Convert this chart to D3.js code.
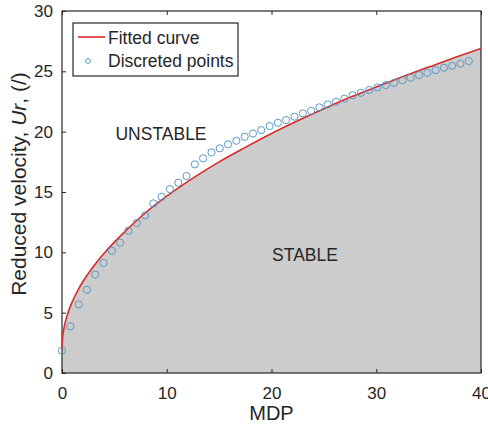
<!DOCTYPE html>
<html>
<head>
<meta charset="utf-8">
<script src="https://cdn.jsdelivr.net/npm/d3@7"></script>
<style>
  body { margin: 0; background: #fff; }
  text { font-family: "Liberation Sans", Arial, sans-serif; fill: #262626; }
</style>
</head>
<body>
<div id="chart"></div>
<script>
// discrete points (MDP, Ur)
var mdp = [0, 0.79, 1.59, 2.38, 3.17, 3.96, 4.76, 5.55, 6.34, 7.13, 7.93, 8.72, 9.51, 10.3, 11.1, 11.89,
  12.68, 13.47, 14.27, 15.06, 15.85, 16.64, 17.44, 18.23, 19.02, 19.82, 20.61, 21.4, 22.19, 22.99, 23.78,
  24.57, 25.36, 26.16, 26.95, 27.74, 28.53, 29.33, 30.12, 30.91, 31.7, 32.5, 33.29, 34.08, 34.87, 35.67,
  36.46, 37.25, 38.04, 38.84];
var ur = [1.85, 3.87, 5.69, 6.9, 8.15, 9.12, 10.12, 10.8, 11.79, 12.43, 13.06, 14.06, 14.6, 15.24, 15.77, 16.32,
  17.29, 17.79, 18.28, 18.62, 18.95, 19.25, 19.58, 19.85, 20.13, 20.46, 20.74, 20.96, 21.24, 21.52, 21.73,
  22.01, 22.26, 22.48, 22.73, 23.02, 23.22, 23.45, 23.67, 23.86, 24.05, 24.27, 24.47, 24.69, 24.88, 25.1,
  25.3, 25.46, 25.63, 25.85];

// fitted curve
var fitX = [0, 0.05, 0.15, 0.3, 0.5, 0.75, 1, 1.5, 2, 3, 4, 5, 6, 8, 10, 12.5, 15, 17.5, 20, 22.5,
  25, 27.5, 30, 32.5, 35, 37.5, 40];
var fitY = [2, 2.88, 3.53, 4.16, 4.79, 5.42, 5.94, 6.83, 7.58, 8.83, 9.9, 10.85, 11.72, 13.3, 14.65,
  16.15, 17.5, 18.7, 19.85, 20.9, 21.9, 22.85, 23.7, 24.55, 25.35, 26.15, 26.9];

var xTicks = [0, 10, 20, 30, 40];
var yTicks = [0, 5, 10, 15, 20, 25, 30];

var width = 488, height = 426;
var mLeft = 62, mRight = 481, mTop = 11, mBottom = 373;

var svg = d3.select("#chart").append("svg")
  .attr("width", width)
  .attr("height", height);

var x = d3.scaleLinear().domain([0, 40]).range([mLeft, mRight]);
var y = d3.scaleLinear().domain([0, 30]).range([mBottom, mTop]);

var fit = fitX.map(function(d, i) { return { x: d, y: fitY[i] }; });
var pts = mdp.map(function(d, i) { return { x: d, y: ur[i] }; });

// stable region
svg.append("path")
  .datum(fit)
  .attr("d", d3.area()
    .x(function(d) { return x(d.x); })
    .y0(y(0))
    .y1(function(d) { return y(d.y); })
    .curve(d3.curveMonotoneX))
  .attr("fill", "#cccccc");

// axes
var axisColor = "#262626";
var gx = svg.append("g").attr("transform", "translate(0," + mBottom + ")")
  .call(d3.axisBottom(x).tickValues(xTicks).tickSize(-4).tickPadding(14));
var gy = svg.append("g").attr("transform", "translate(" + mLeft + ",0)")
  .call(d3.axisLeft(y).tickValues(yTicks).tickSize(-4).tickPadding(9));
var gt = svg.append("g").attr("transform", "translate(0," + mTop + ")")
  .call(d3.axisTop(x).tickValues(xTicks).tickSize(-4).tickFormat(""));

[gx, gy, gt].forEach(function(g) {
  g.select(".domain").remove();
  g.selectAll("line").attr("stroke", axisColor);
  g.selectAll("text").style("font-size", "17px").attr("fill", axisColor);
});

svg.append("rect")
  .attr("x", mLeft).attr("y", mTop)
  .attr("width", mRight - mLeft).attr("height", mBottom - mTop)
  .attr("fill", "none")
  .attr("stroke", axisColor)
  .attr("stroke-width", 1.2);

// fitted curve
svg.append("path")
  .datum(fit)
  .attr("d", d3.line()
    .x(function(d) { return x(d.x); })
    .y(function(d) { return y(d.y); })
    .curve(d3.curveMonotoneX))
  .attr("fill", "none")
  .attr("stroke", "#d92b2b")
  .attr("stroke-width", 1.6);

// discrete points
svg.selectAll("circle.pt")
  .data(pts)
  .enter()
  .append("circle")
  .attr("class", "pt")
  .attr("cx", function(d) { return x(d.x); })
  .attr("cy", function(d) { return y(d.y); })
  .attr("r", 3.6)
  .attr("fill", "none")
  .attr("stroke", "#5a9ac6")
  .attr("stroke-width", 1);

// region labels
svg.append("text").attr("x", 161).attr("y", 140).attr("text-anchor", "middle")
  .style("font-size", "17.5px").attr("fill", "#111").text("UNSTABLE");
svg.append("text").attr("x", 305).attr("y", 261).attr("text-anchor", "middle")
  .style("font-size", "17.5px").attr("fill", "#111").text("STABLE");

// axis labels
svg.append("text").attr("x", (mLeft + mRight) / 2).attr("y", 420).attr("text-anchor", "middle")
  .style("font-size", "20px").attr("fill", axisColor).text("MDP");

var yl = svg.append("text")
  .attr("transform", "translate(26,184) rotate(-90)")
  .attr("text-anchor", "middle")
  .style("font-size", "21px")
  .attr("fill", axisColor);
yl.append("tspan").text("Reduced velocity, ");
yl.append("tspan").style("font-style", "italic").text("Ur");
yl.append("tspan").text(", (/)");

// legend
var lg = svg.append("g");
lg.append("rect").attr("x", 73).attr("y", 23).attr("width", 165).attr("height", 53)
  .attr("fill", "#fff").attr("stroke", axisColor).attr("stroke-width", 1.2);
lg.append("line").attr("x1", 78).attr("x2", 105).attr("y1", 37).attr("y2", 37)
  .attr("stroke", "#d92b2b").attr("stroke-width", 1.6);
lg.append("circle").attr("cx", 88).attr("cy", 61).attr("r", 2.4)
  .attr("fill", "none").attr("stroke", "#5a9ac6").attr("stroke-width", 1);
lg.append("text").attr("x", 108).attr("y", 44).style("font-size", "17.5px").attr("fill", "#111").text("Fitted curve");
lg.append("text").attr("x", 108).attr("y", 67).style("font-size", "17.5px").attr("fill", "#111").text("Discreted points");
</script>
</body>
</html>
